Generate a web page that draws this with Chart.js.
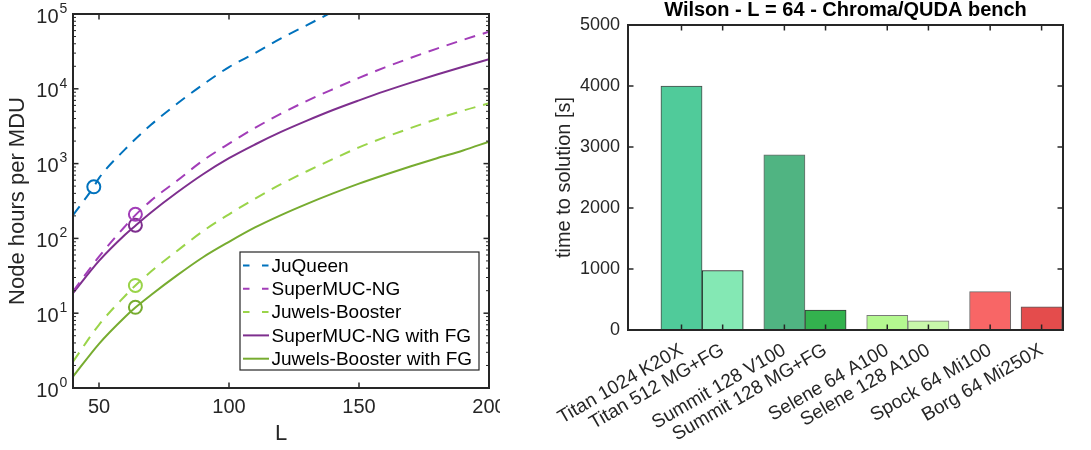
<!DOCTYPE html>
<html>
<head>
<meta charset="utf-8">
<title>Cost estimates and Wilson bench</title>
<script src="https://cdn.jsdelivr.net/npm/chart.js@4.4.1/dist/chart.umd.min.js"></script>
<style>
  body { margin: 0; background: #fff; }
  #leftBox { position: absolute; left: 0; top: 0; width: 500px; height: 450px; overflow: hidden; }
  #rightBox { position: absolute; left: 530px; top: 0; width: 561px; height: 450px; }
</style>
</head>
<body>
<div id="leftBox"><canvas id="costChart" width="530" height="450"></canvas></div>
<div id="rightBox"><canvas id="benchChart" width="561" height="450"></canvas></div>
<script>
// left panel: node hours per MDU against L
const L = [40, 50, 60, 64, 70, 80, 90, 100, 110, 120, 130, 140, 150, 160, 170, 180, 190, 200]
const juqueenL = [40, 48, 50, 60, 70, 80, 90, 100, 110, 120, 130, 140]
const juqueen = [205, 490, 640, 1550, 3300, 6300, 11400, 19500, 30000, 47300, 71000, 108000]
const superMUC = [19.5, 57, 145, 205, 320, 590, 1100, 1850, 3000, 4650, 6900, 9900, 14000, 19300, 26000, 34500, 45000, 58000]
const juwels = [2.25, 7, 17, 23.5, 36, 68, 125, 210, 340, 530, 790, 1150, 1650, 2250, 3000, 3950, 5100, 6400]
const superMUCFG = [18.5, 50, 112, 148, 222, 410, 720, 1180, 1800, 2650, 3750, 5200, 7000, 9300, 12100, 15500, 19700, 24800]
const juwelsFG = [1.42, 3.9, 8.9, 11.9, 17.5, 32, 56, 90, 140, 205, 290, 400, 540, 710, 920, 1180, 1500, 1960]
const seriesNames = ['JuQueen', 'SuperMUC-NG', 'Juwels-Booster', 'SuperMUC-NG with FG', 'Juwels-Booster with FG']
// measured runs (circles), same order as seriesNames
const measuredL = [48, 64, 64, 64, 64]
const measured = [490, 210, 23.5, 150, 12]
const logTicks = [1, 10, 100, 1000, 10000, 100000]
const lTicks = [50, 100, 150, 200]

// right panel: time to solution
const machines = ['Titan 1024 K20X', 'Titan 512 MG+FG', 'Summit 128 V100', 'Summit 128 MG+FG',
  'Selene 64 A100', 'Selene 128 A100', 'Spock 64 Mi100', 'Borg 64 Mi250X']
const slots = [1, 2, 3.5, 4.5, 6, 7, 8.5, 9.75]
const times = [4000, 975, 2870, 325, 240, 150, 630, 380]
const timeTicks = [0, 1000, 2000, 3000, 4000, 5000]

const lineColors = ['#0072BD', '#A23DB8', '#9AD449', '#7E2F8E', '#77AC30']
const dashed = [true, true, true, false, false]
const barColors = ['#50CB9A', '#84E8B4', '#50B482', '#33B24E', '#B4F890', '#C8F8AA', '#F86666', '#E44C4C']
const barEdges = ['#4a4a4a', '#111111', '#6a6a6a', '#3a3a3a', '#7a7a7a', '#7a7a7a', '#6a6a6a', '#5a5a5a']

Chart.defaults.font.family = '"Liberation Sans", Arial, sans-serif'
Chart.defaults.color = '#262626'

// fixed axis sizes so the plot box lands where it is in the picture
const fixSize = (prop, size) => (s) => {
  s[prop] = size
  s.paddingTop = 0
  s.paddingBottom = 0
  s.paddingLeft = 0
  s.paddingRight = 0
}

// matlab style box: ticks pointing inward on all four sides
const axesBox = {
  id: 'axesBox',
  afterDatasetsDraw(chart, args, o) {
    const { ctx, chartArea: a, scales } = chart
    const x = scales.x, y = scales.y
    ctx.save()
    ctx.strokeStyle = '#262626'
    ctx.lineWidth = 1.5
    const seg = (x1, y1, x2, y2) => { ctx.beginPath(); ctx.moveTo(x1, y1); ctx.lineTo(x2, y2); ctx.stroke() }
    x.ticks.forEach((t) => {
      const px = x.getPixelForValue(t.value)
      seg(px, a.bottom, px, a.bottom - o.len)
      seg(px, a.top, px, a.top + o.len)
    })
    y.ticks.forEach((t) => {
      const py = y.getPixelForValue(t.value)
      seg(a.left, py, a.left + o.len, py)
      seg(a.right, py, a.right - o.len, py)
    })
    if (o.minor) {
      ctx.lineWidth = 1
      for (let e = 0; e < 5; e++) {
        for (let k = 2; k < 10; k++) {
          const py = y.getPixelForValue(k * Math.pow(10, e))
          seg(a.left, py, a.left + 3, py)
          seg(a.right, py, a.right - 3, py)
        }
      }
    }
    ctx.lineWidth = 2
    ctx.strokeRect(a.left, a.top, a.right - a.left, a.bottom - a.top)

    if (o.exponents) {
      ctx.fillStyle = '#262626'
      ctx.font = '14px ' + Chart.defaults.font.family
      ctx.textAlign = 'left'
      ctx.textBaseline = 'middle'
      y.ticks.forEach((t) => {
        const py = y.getPixelForValue(t.value)
        ctx.fillText(String(Math.round(Math.log10(t.value))), a.left - 13.5, py - 5)
      })
    }

    if (o.legend) {
      const w = 239, h = 118
      const lx = a.right - 10 - w, ly = a.bottom - 18 - h
      ctx.fillStyle = '#fff'
      ctx.fillRect(lx, ly, w, h)
      ctx.lineWidth = 1.2
      ctx.strokeStyle = '#262626'
      ctx.strokeRect(lx, ly, w, h)
      ctx.font = '19px ' + Chart.defaults.font.family
      ctx.textAlign = 'left'
      ctx.textBaseline = 'middle'
      chart.data.datasets.filter((d) => !d.isMarker).forEach((d, i) => {
        const cy = ly + 13.5 + i * 23.3
        ctx.strokeStyle = d.borderColor
        ctx.lineWidth = 2
        ctx.setLineDash(d.borderDash.length ? [6.5, 12.5] : [])
        seg(lx + 3, cy, lx + 29, cy)
        ctx.setLineDash([])
        ctx.fillStyle = '#000'
        ctx.fillText(d.label, lx + 31.5, cy + 1)
      })
    }
    ctx.restore()
  },
}

const pts = (xs, ys) => xs.map((v, i) => ({ x: v, y: ys[i] }))
const curves = [pts(juqueenL, juqueen), pts(L, superMUC), pts(L, juwels), pts(L, superMUCFG), pts(L, juwelsFG)]

const lineSets = curves.map((data, i) => ({
  type: 'line',
  label: seriesNames[i],
  data: data,
  borderColor: lineColors[i],
  borderWidth: 2,
  borderDash: dashed[i] ? [11, 8] : [],
  pointRadius: 0,
  cubicInterpolationMode: 'monotone',
  fill: false,
}))
const markerSets = measured.map((v, i) => ({
  type: 'scatter',
  label: seriesNames[i],
  isMarker: true,
  data: [{ x: measuredL[i], y: v }],
  borderColor: lineColors[i],
  backgroundColor: 'rgba(0,0,0,0)',
  pointRadius: 6.5,
  pointHoverRadius: 6.5,
  pointBorderWidth: 2,
  showLine: false,
}))

new Chart(document.getElementById('costChart'), {
  type: 'line',
  data: { datasets: [...lineSets, ...markerSets] },
  plugins: [axesBox],
  options: {
    responsive: false,
    animation: false,
    events: [],
    layout: { padding: { top: 14, right: 41, left: 0, bottom: 0 } },
    scales: {
      x: {
        type: 'linear',
        min: 40,
        max: 200,
        afterBuildTicks: (s) => { s.ticks = lTicks.map((v) => ({ value: v })) },
        afterFit: fixSize('height', 62),
        grid: { display: false, drawTicks: false },
        border: { display: false },
        ticks: { font: { size: 20 }, padding: 7, maxRotation: 0 },
        title: { display: true, text: 'L', font: { size: 22 }, padding: { top: 0, bottom: 3 } },
      },
      y: {
        type: 'logarithmic',
        min: 1,
        max: 100000,
        afterBuildTicks: (s) => { s.ticks = logTicks.map((v) => ({ value: v })) },
        afterFit: fixSize('width', 73),
        grid: { display: false, drawTicks: false },
        border: { display: false },
        ticks: { font: { size: 20 }, padding: 14.5, labelOffset: 3, callback: () => '10' },
        title: { display: true, text: 'Node hours per MDU', font: { size: 22 }, padding: { top: 5, bottom: 0 } },
      },
    },
    plugins: {
      legend: { display: false },
      tooltip: { enabled: false },
      axesBox: { len: 5.5, minor: true, exponents: true, legend: true },
    },
  },
})

new Chart(document.getElementById('benchChart'), {
  type: 'bar',
  data: {
    datasets: [{
      label: 'time to solution',
      data: pts(slots, times),
      backgroundColor: barColors,
      borderColor: barEdges,
      borderWidth: 1,
      barPercentage: 1,
      categoryPercentage: 1,
    }],
  },
  plugins: [axesBox],
  options: {
    responsive: false,
    animation: false,
    events: [],
    layout: { padding: { top: 0, right: 28, left: 0, bottom: 0 } },
    scales: {
      x: {
        type: 'linear',
        offset: false,
        min: -0.3,
        max: 10.27,
        afterBuildTicks: (s) => { s.ticks = slots.map((v) => ({ value: v })) },
        afterFit: fixSize('height', 120),
        grid: { display: false, drawTicks: false },
        border: { display: false },
        ticks: {
          font: { size: 19 },
          padding: 9,
          autoSkip: false,
          minRotation: 30,
          maxRotation: 30,
          callback: (v, i) => machines[i],
        },
      },
      y: {
        min: 0,
        max: 5000,
        afterBuildTicks: (s) => { s.ticks = timeTicks.map((v) => ({ value: v })) },
        afterFit: fixSize('width', 98),
        grid: { display: false, drawTicks: false },
        border: { display: false },
        ticks: { font: { size: 18 }, padding: 8, callback: (v) => String(v) },
        title: { display: true, text: 'time to solution [s]', font: { size: 20 }, padding: { top: 22, bottom: 0 } },
      },
    },
    plugins: {
      legend: { display: false },
      tooltip: { enabled: false },
      title: {
        display: true,
        fullSize: false,
        text: 'Wilson - L = 64 - Chroma/QUDA bench',
        color: '#000',
        font: { size: 20, weight: 'bold', lineHeight: 1 },
        padding: { top: 0, bottom: 5 },
      },
      axesBox: { len: 5.5 },
    },
  },
})
</script>
</body>
</html>
